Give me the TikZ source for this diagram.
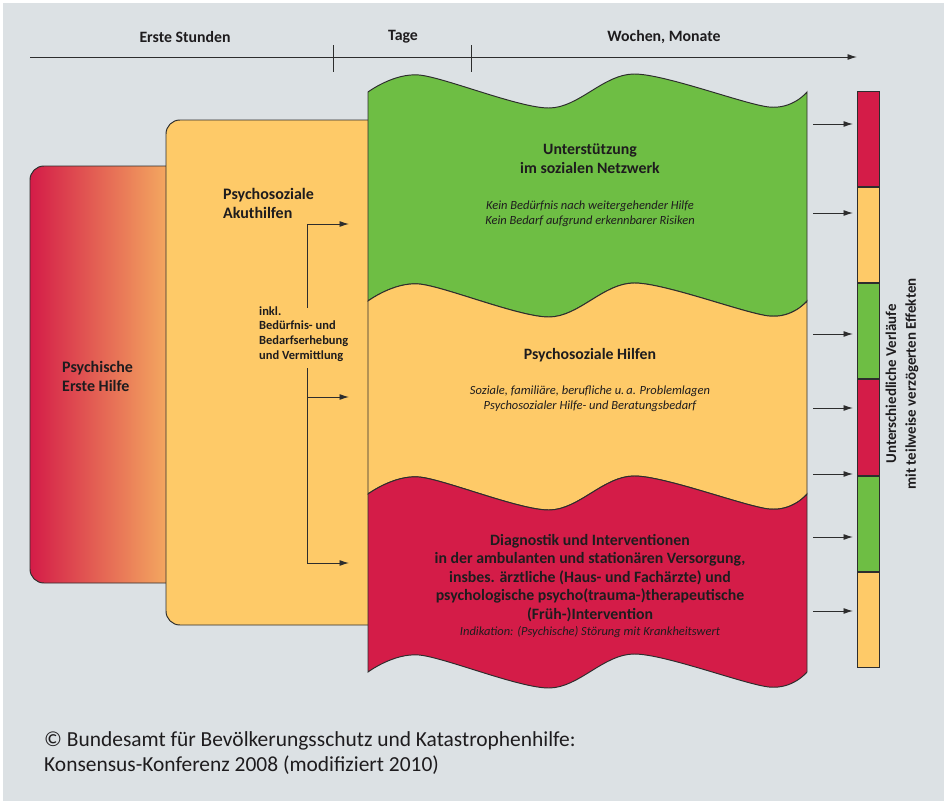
\documentclass[tikz,border=0pt]{standalone}
\usepackage{fontspec}
\setmainfont{Carlito}
\usetikzlibrary{positioning,arrows.meta}

\definecolor{bbkgreen}{RGB}{110,190,68}
\definecolor{bbkyellow}{RGB}{254,202,104}
\definecolor{bbkred}{RGB}{212,28,72}
\definecolor{bbkorange}{RGB}{249,192,100}
\definecolor{bbkgray}{RGB}{220,225,228}
\definecolor{bbkline}{RGB}{45,45,45}
\definecolor{bbktext}{RGB}{30,28,30}

% one band of the wavy block: colour, upper edge, lower edge
\newcommand{\waveband}[3]{%
  \filldraw[outline, fill=#1]
    plot[smooth] coordinates {(368,#2) (419,{#2-17}) (549,{#2+16}) (634,{#2-18}) (769,{#2+15}) (807,#2)}
    -- plot[smooth] coordinates {(807,#3) (769,{#3+15}) (634,{#3-18}) (549,{#3+16}) (419,{#3-17}) (368,#3)}
    -- cycle;}

\tikzset{
  outline/.style={draw=bbkline, line width=0.55pt},
  tip/.style={draw=bbkline, line width=0.55pt, -{Latex[length=1.9mm,width=1.2mm]}},
  headtext/.style={font=\bfseries\fontsize{9}{10}\selectfont, text=bbktext},
  boxtitle/.style={align=left, font=\bfseries\fontsize{9.1}{10.8}\selectfont, text=bbktext},
  smalltitle/.style={align=left, font=\bfseries\fontsize{7.1}{8.4}\selectfont, text=bbktext},
  bandtitle/.style={align=center, font=\bfseries\fontsize{9}{10.6}\selectfont, text=bbktext},
  bandnote/.style={align=center, font=\itshape\fontsize{7.1}{8.5}\selectfont, text=bbktext},
  seg/.style={outline, minimum width=0.44cm, minimum height=1.907cm, inner sep=0pt},
}

\begin{document}
\begin{tikzpicture}[x=0.02cm, y=-0.02cm]
  \useasboundingbox (0,0) rectangle (944,801);
  \fill[bbkgray] (3,3) rectangle (944,801);

  % time axis
  \coordinate (t0) at (30,57);
  \coordinate (t1) at (857,57);
  \draw[tip] (t0) -- (t1);
  \draw[bbkline, line width=0.55pt] (333,45) -- (333,72);
  \draw[bbkline, line width=0.55pt] (471,45) -- (471,72);
  \node[headtext] (erst) at (185,37) {Erste Stunden};
  \node[headtext] (tage) at (403,37) {Tage};
  \node[headtext] (wochen) at (664,37) {Wochen, Monate};

  % left boxes
  \draw[outline, rounded corners=0.28cm, left color=bbkred, right color=bbkorange]
    (30,166) rectangle (190,583);
  \draw[outline, rounded corners=0.28cm, fill=bbkyellow] (166,120) rectangle (400,625);
  \node[boxtitle, anchor=west] (peh) at (56,376) {Psychische\\Erste Hilfe};
  \node[boxtitle, anchor=west] (akut) at (217,203) {Psychosoziale\\Akuthilfen};
  \node[smalltitle, anchor=west] (inkl) at (253,334) {inkl.\\Bedürfnis- und\\Bedarfserhebung\\und Vermittlung};

  % bracket
  \coordinate (b1) at (307,224);
  \coordinate (b2) at (307,397);
  \coordinate (b3) at (307,563);
  \coordinate (e1) at (349,224);
  \coordinate (e2) at (349,397);
  \coordinate (e3) at (349,563);
  \draw[bbkline, line width=0.55pt] (b1) -- (307,308);
  \draw[bbkline, line width=0.55pt] (307,368) -- (b3);
  \draw[tip] (b1) -- (e1);
  \draw[tip] (b2) -- (e2);
  \draw[tip] (b3) -- (e3);

  % wavy block
  \waveband{bbkgreen}{92}{301}
  \waveband{bbkyellow}{301}{494}
  \waveband{bbkred}{494}{672}

  \node[bandtitle] (netz) at (590,159) {Unterstützung\\im sozialen Netzwerk};
  \node[bandnote] (netznote) at (590,214) {Kein Bedürfnis nach weitergehender Hilfe\\Kein Bedarf aufgrund erkennbarer Risiken};
  \node[bandtitle] (hilfen) at (590,355) {Psychosoziale Hilfen};
  \node[bandnote] (hilfennote) at (590,399) {Soziale, familiäre, berufliche u.\,a. Problemlagen\\Psychosozialer Hilfe- und Beratungsbedarf};
  \node[bandtitle] (diag) at (590,578) {Diagnostik und Interventionen\\in der ambulanten und stationären Versorgung,\\insbes. ärztliche (Haus- und Fachärzte) und\\psychologische psycho(trauma-)therapeutische\\(Früh-)Intervention};
  \node[bandnote] (diagnote) at (590,632) {Indikation: (Psychische) Störung mit Krankheitswert};

  % outcome bar
  \node[seg, fill=bbkred] (s1) at (868,138.7) {};
  \node[seg, fill=bbkyellow, below=0pt of s1] (s2) {};
  \node[seg, fill=bbkgreen, below=0pt of s2] (s3) {};
  \node[seg, fill=bbkred, below=0pt of s3] (s4) {};
  \node[seg, fill=bbkgreen, below=0pt of s4] (s5) {};
  \node[seg, fill=bbkyellow, below=0pt of s5] (s6) {};
  \node[boxtitle, align=center, rotate=90, font=\bfseries\fontsize{8.5}{11.3}\selectfont] (verlauf) at (902,384)
    {Unterschiedliche Verläufe\\mit teilweise verzögerten Effekten};

  \coordinate (r1) at (813,124);
  \coordinate (r2) at (813,213);
  \coordinate (r3) at (813,334);
  \coordinate (r4) at (813,408);
  \coordinate (r5) at (813,474);
  \coordinate (r6) at (813,537);
  \coordinate (r7) at (813,611);
  \draw[tip, shorten >=2pt] (r1) -- (r1 -| s1.west);
  \draw[tip, shorten >=2pt] (r2) -- (r2 -| s2.west);
  \draw[tip, shorten >=2pt] (r3) -- (r3 -| s3.west);
  \draw[tip, shorten >=2pt] (r4) -- (r4 -| s4.west);
  \draw[tip, shorten >=2pt] (r5) -- (r5 -| s5.west);
  \draw[tip, shorten >=2pt] (r6) -- (r6 -| s5.west);
  \draw[tip, shorten >=2pt] (r7) -- (r7 -| s6.west);

  % source
  \node[anchor=west, align=left, font=\fontsize{12.2}{14.7}\selectfont, text=bbktext] (quelle) at (38,753)
    {© Bundesamt für Bevölkerungsschutz und Katastrophenhilfe:\\Konsensus-Konferenz 2008 (modifiziert 2010)};
\end{tikzpicture}
\end{document}
